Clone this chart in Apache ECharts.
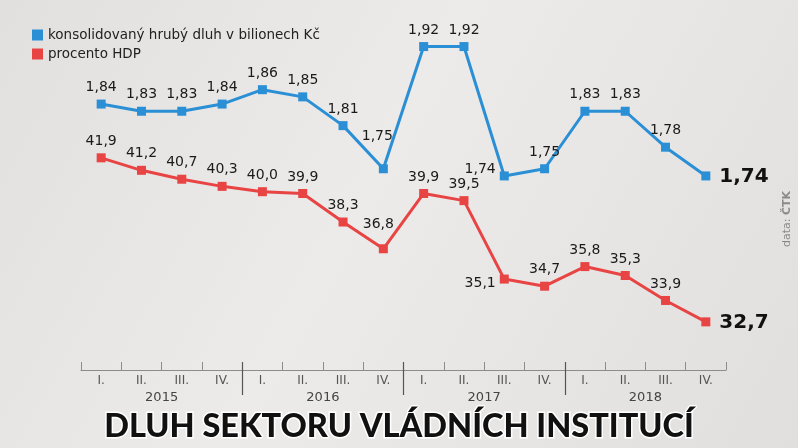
<!DOCTYPE html>
<html>
<head>
<meta charset="utf-8">
<script src="https://cdn.jsdelivr.net/npm/echarts@6/dist/echarts.min.js"></script>
<style>html,body{margin:0;padding:0;}#c{width:798px;height:448px;}</style>
</head>
<body>
<div id="c"></div>
<script>
var quarters = ['I.','II.','III.','IV.','I.','II.','III.','IV.','I.','II.','III.','IV.','I.','II.','III.','IV.'];
var years = ['2015','2016','2017','2018'];
var debtValues = [1.84,1.83,1.83,1.84,1.86,1.85,1.81,1.75,1.92,1.92,1.74,1.75,1.83,1.83,1.78,1.74];
var gdpValues = [41.9,41.2,40.7,40.3,40.0,39.9,38.3,36.8,39.9,39.5,35.1,34.7,35.8,35.3,33.9,32.7];
var yearBoundaries = [4,8,12];

var chart = echarts.init(document.getElementById('c'));
var FONT = 'DejaVu Sans';
function comma(v, d){ return v.toFixed(d).replace('.', ','); }

var blueLabelOverrides = {
  7: {position:'top', offset:[-6,-16]},
  10:{position:'left', distance:4, offset:[0,-7]},
  15:{position:'right', distance:9, fontSize:20, fontWeight:'bold', color:'#111', offset:[0,1]}
};
var redLabelOverrides = {
  7: {position:'top', offset:[-5,-8]},
  10:{position:'left', distance:4, offset:[0,4]},
  15:{position:'right', distance:9, fontSize:20, fontWeight:'bold', color:'#111', offset:[0,1]}
};
function buildData(vals, overrides){
  return vals.map(function(v,i){
    var o = {value:v};
    if (overrides[i]) o.label = overrides[i];
    return o;
  });
}

var option = {
  backgroundColor: {
    type:'linear', x:0, y:0, x2:1, y2:1,
    colorStops:[{offset:0,color:'#e2e0de'},{offset:0.45,color:'#ecebe9'},{offset:1,color:'#e1dfde'}]
  },
  animation:false,
  legend:{
    orient:'vertical', left:27, top:23, itemGap:5,
    icon:'rect', itemWidth:11, itemHeight:11,
    textStyle:{fontFamily:FONT, fontSize:13.5, color:'#222'},
    data:['konsolidovaný hrubý dluh v bilionech Kč','procento HDP']
  },
  grid:[
    {left:81, right:72, top:25, bottom:78},
    {left:81, right:72, top:362, height:33}
  ],
  xAxis:[
    {type:'category', gridIndex:0, data:quarters, boundaryGap:true,
     axisLine:{lineStyle:{color:'#8c8c8c', width:1}},
     axisTick:{show:true, interval:0, inside:true, length:8, lineStyle:{color:'#8c8c8c', width:1}},
     axisLabel:{fontFamily:FONT, fontSize:12, color:'#555', margin:5}},
    {type:'category', gridIndex:0, data:years, position:'bottom', offset:20,
     axisLine:{show:false}, axisTick:{show:false},
     axisLabel:{fontFamily:FONT, fontSize:13, color:'#444', margin:1}},
    {type:'value', gridIndex:1, min:0, max:16, show:false}
  ],
  yAxis:[
    {type:'value', gridIndex:0, min:1.47, max:1.95, show:false},
    {type:'value', gridIndex:0, min:30, max:49.35, show:false},
    {type:'value', gridIndex:1, min:0, max:1, show:false}
  ],
  series:[
    {name:'konsolidovaný hrubý dluh v bilionech Kč', type:'line', xAxisIndex:0, yAxisIndex:0,
     data:buildData(debtValues,blueLabelOverrides),
     color:'#2b8fd6',
     lineStyle:{width:3, color:'#2b8fd6'},
     symbol:'rect', symbolSize:9, itemStyle:{color:'#2b8fd6'},
     label:{show:true, position:'top', distance:5, fontFamily:FONT, fontSize:14, color:'#1a1a1a',
       formatter:function(p){return comma(p.value,2);}}},
    {name:'procento HDP', type:'line', xAxisIndex:0, yAxisIndex:1,
     data:buildData(gdpValues,redLabelOverrides),
     color:'#e84444',
     lineStyle:{width:3, color:'#e84444'},
     symbol:'rect', symbolSize:9, itemStyle:{color:'#e84444'},
     label:{show:true, position:'top', distance:5, fontFamily:FONT, fontSize:14, color:'#1a1a1a',
       formatter:function(p){return comma(p.value,1);}}},
    {type:'line', xAxisIndex:2, yAxisIndex:2, data:[], silent:true,
     markLine:{silent:true, symbol:'none', label:{show:false},
       lineStyle:{color:'#555', width:1.2, type:'solid'},
       data:yearBoundaries.map(function(b){return {xAxis:b};})}}
  ],
  graphic:[
    {type:'text', left:'center', top:409,
     style:{text:'DLUH SEKTORU VLÁDNÍCH INSTITUCÍ', fontFamily:'Lato', fontWeight:900, fontSize:32.5,
       fill:'#111', stroke:'#ffffff', lineWidth:3,
       shadowColor:'rgba(0,0,0,0.35)', shadowBlur:3}},
    {type:'text', x:782, y:247, rotation:Math.PI/2,
     style:{text:'{a|data: }{b|ČTK}', rich:{a:{fontFamily:FONT, fontSize:11, fill:'#8a8a8a'}, b:{fontFamily:FONT, fontSize:11, fontWeight:'bold', fill:'#8a8a8a'}}}}
  ]
};
chart.setOption(option);
</script>
</body>
</html>
